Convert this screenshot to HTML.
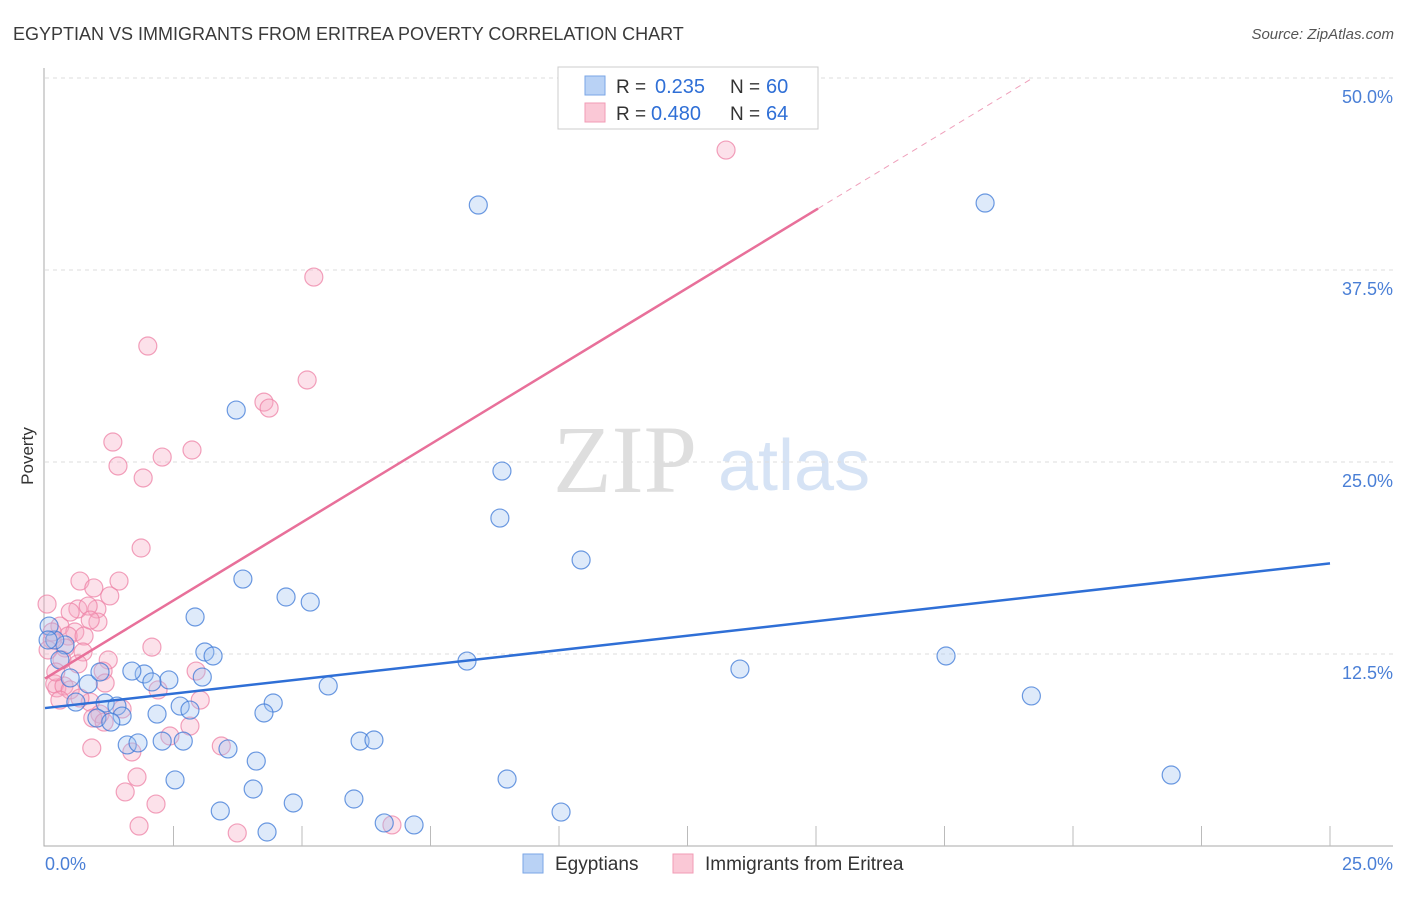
<!DOCTYPE html>
<html><head><meta charset="utf-8"><style>
body{margin:0;background:#fff;font-family:"Liberation Sans",sans-serif;}
svg text{font-family:"Liberation Sans",sans-serif;}
</style></head><body>
<svg id="chart" width="1406" height="892" xmlns="http://www.w3.org/2000/svg">
<text x="13" y="40" font-size="18" fill="#3a3a3a">EGYPTIAN VS IMMIGRANTS FROM ERITREA POVERTY CORRELATION CHART</text>
<text x="1394" y="39" font-size="15" fill="#555" font-style="italic" text-anchor="end">Source: ZipAtlas.com</text>
<text x="553" y="492" font-size="96" fill="#dedede" font-family="Liberation Serif" style="font-family:'Liberation Serif',serif">ZIP</text>
<text x="718" y="490" font-size="72" fill="#d6e3f5">atlas</text>
<text transform="translate(33,456) rotate(-90)" font-size="17" fill="#333" text-anchor="middle">Poverty</text>
<g id="grid"></g>
<g id="axes"></g>
<g id="points"></g>
<g id="lines"></g>
<g>
<rect x="558" y="67" width="260" height="62" fill="#fff" stroke="#ccc"/>
<rect x="585" y="76" width="20" height="19" fill="#b9d2f5" stroke="#7aa6e6"/>
<rect x="585" y="103" width="20" height="19" fill="#fac8d6" stroke="#f29bb5"/>
<text x="616" y="93" font-size="19" fill="#333">R =</text>
<text x="655" y="93" font-size="20" fill="#2f6fd6">0.235</text>
<text x="730" y="93" font-size="19" fill="#333">N =</text>
<text x="766" y="93" font-size="20" fill="#2f6fd6">60</text>
<text x="616" y="120" font-size="19" fill="#333">R =</text>
<text x="651" y="120" font-size="20" fill="#2f6fd6">0.480</text>
<text x="730" y="120" font-size="19" fill="#333">N =</text>
<text x="766" y="120" font-size="20" fill="#2f6fd6">64</text>
</g>
<g>
<rect x="523" y="854" width="20" height="19" fill="#b9d2f5" stroke="#7aa6e6"/>
<text x="555" y="870" font-size="19" fill="#333">Egyptians</text>
<rect x="673" y="854" width="20" height="19" fill="#fac8d6" stroke="#f29bb5"/>
<text x="705" y="870" font-size="19" fill="#333">Immigrants from Eritrea</text>
</g>
</svg>
<script>
const blueX=[8.43,18.29,3.72,8.89,8.85,10.43,3.85,4.69,5.16,2.92,3.11,3.27,8.21,17.53,13.52,5.51,3.06,2.41,1.93,1.69,2.08,0.84,1.07,0.49,0.39,0.19,19.19,4.44,4.26,2.18,2.63,2.82,0.60,1.17,1.40,1.50,1.01,1.28,6.13,6.40,2.69,2.28,1.60,1.81,3.56,4.11,2.53,8.99,4.05,21.91,4.83,6.01,3.41,10.04,6.60,7.18,4.32,0.08,0.06,0.29];
const blueY=[41.73,41.86,28.38,24.41,21.35,18.62,17.38,16.21,15.88,14.91,12.63,12.37,12.04,12.37,11.52,10.42,11.00,10.81,11.20,11.39,10.68,10.55,11.33,10.94,13.09,13.41,9.77,9.31,8.66,8.59,9.11,8.85,9.37,9.31,9.11,8.46,8.33,8.07,6.83,6.90,6.83,6.83,6.58,6.71,6.32,5.53,4.30,4.36,3.71,4.62,2.80,3.06,2.28,2.21,1.50,1.37,0.91,14.32,13.41,12.11];
const pinkX=[13.25,5.23,2.00,5.10,4.26,4.36,1.32,2.86,2.28,1.42,1.91,1.87,0.68,1.44,0.95,1.26,0.04,0.64,1.01,0.84,1.03,0.29,0.58,0.45,0.76,0.14,2.08,0.39,0.74,0.33,1.23,2.94,1.13,0.64,0.23,0.19,0.37,1.17,2.20,0.88,1.50,1.07,0.93,1.15,2.82,2.43,3.43,0.91,1.69,1.79,1.56,2.16,1.83,3.74,6.75,0.14,0.49,0.88,0.49,0.29,0.06,0.21,0.68,3.02];
const pinkY=[45.31,37.04,32.55,30.34,28.90,28.51,26.30,25.78,25.32,24.74,23.96,19.40,17.25,17.25,16.80,16.28,15.75,15.43,15.43,15.62,14.58,14.32,13.93,13.67,13.67,13.41,12.95,12.89,12.63,12.11,12.11,11.39,11.39,11.85,10.29,10.55,10.42,10.61,10.16,9.37,8.92,8.59,8.33,8.07,7.81,7.16,6.51,6.38,6.12,4.49,3.52,2.73,1.30,0.85,1.37,13.93,15.23,14.71,10.16,9.50,12.76,11.33,9.63,9.50];
const yTicks=[12.5,25,37.5,50];
const yTickLabels=["12.5%","25.0%","37.5%","50.0%"];
const xTicks=[0,2.5,5,7.5,10,12.5,15,17.5,20,22.5,25];
const blueTrend=[8.98,18.4];
const pinkTrend=[10.9,41.5,15.04];
const NS="http://www.w3.org/2000/svg";
const xs=v=>45+v*51.4, ys=v=>846-v*15.36;
function mk(p,t,a){const e=document.createElementNS(NS,t);for(const k in a)e.setAttribute(k,a[k]);p.appendChild(e);return e;}
const grid=document.getElementById('grid'),axes=document.getElementById('axes');
yTicks.forEach((t,i)=>{
 const l=mk(grid,'line',{x1:45,x2:1393,y1:ys(t),y2:ys(t),stroke:'#ddd','stroke-dasharray':'4,4'});
 
 
 const tx=mk(grid,'text',{x:1393,y:ys(t)+25,'font-size':18,fill:'#4a7fd6','text-anchor':'end'});
 tx.textContent=yTickLabels[i];
 
 
});
const ax=mk(axes,'path',{d:'M44,68V846H1393',stroke:'#aaa',fill:'none'});


xTicks.forEach(t=>{if(t===0)return;const l=mk(axes,'line',{x1:xs(t),x2:xs(t),y1:846,y2:826,stroke:'#bbb'});
 
 });
let t0=mk(axes,'text',{x:45,y:870,'font-size':18,fill:'#4a7fd6'});t0.textContent='0.0%';


let t1=mk(axes,'text',{x:1393,y:870,'font-size':18,fill:'#4a7fd6','text-anchor':'end'});t1.textContent='25.0%';


const pts=document.getElementById('points');
pinkX.forEach((x,i)=>{const c=mk(pts,'circle',{cx:xs(x),cy:ys(pinkY[i]),r:9,fill:'rgba(246,170,195,0.35)',stroke:'rgba(238,130,165,0.75)','stroke-width':1.2});
 
 });
blueX.forEach((x,i)=>{const c=mk(pts,'circle',{cx:xs(x),cy:ys(blueY[i]),r:9,fill:'rgba(160,195,240,0.35)',stroke:'rgba(60,120,215,0.75)','stroke-width':1.2});
 
 });
const lines=document.getElementById('lines');
const bl=mk(lines,'line',{x1:xs(0),y1:ys(blueTrend[0]),x2:xs(25),y2:ys(blueTrend[1]),stroke:'#2f6fd6','stroke-width':2.5});


const slope=(pinkTrend[1]-pinkTrend[0])/pinkTrend[2];
const pl=mk(lines,'line',{x1:xs(0),y1:ys(pinkTrend[0]),x2:xs(pinkTrend[2]),y2:ys(pinkTrend[1]),stroke:'#e8709a','stroke-width':2.5});


const xe=(50-pinkTrend[0])/slope;
const pd=mk(lines,'line',{x1:xs(pinkTrend[2]),y1:ys(pinkTrend[1]),x2:xs(xe),y2:ys(50),stroke:'#efa0bb','stroke-width':1,'stroke-dasharray':'6,5'});


</script>
</body></html>
